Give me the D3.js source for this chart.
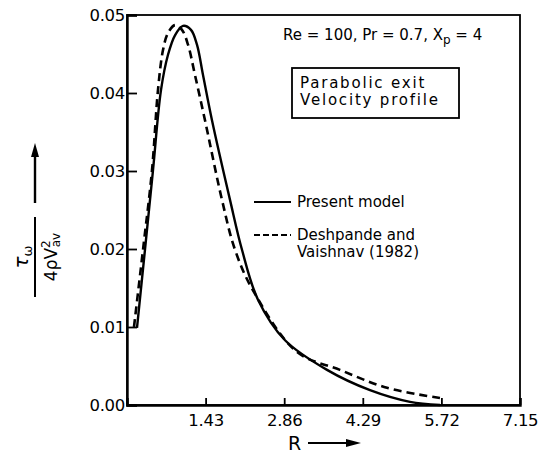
<!DOCTYPE html>
<html>
<head>
<meta charset="utf-8">
<script src="https://cdn.jsdelivr.net/npm/d3@7"></script>
<style>
  html, body { margin: 0; padding: 0; background: #fff; }
  svg text { font-family: "DejaVu Sans", "Liberation Sans", Arial, sans-serif; fill: #000; }
</style>
</head>
<body>
<svg id="chart" width="538" height="461"></svg>
<script>
// ---- data ----
const xTicks = [1.43, 2.86, 4.29, 5.72, 7.15];
const yTicks = [0.00, 0.01, 0.02, 0.03, 0.04, 0.05];

const presentR   = [0.182, 0.327, 0.473, 0.619, 0.746, 0.873, 1.019, 1.164, 1.273, 1.383, 1.546, 1.874, 2.092, 2.383, 2.875, 3.639, 4.421, 5.149, 5.694];
const presentVal = [0.0099, 0.0199, 0.0301, 0.0404, 0.0449, 0.0474, 0.0486, 0.0481, 0.0462, 0.0423, 0.0365, 0.0263, 0.0199, 0.0135, 0.0083, 0.0045, 0.0019, 0.0004, 0.0000];

const deshR   = [0.127, 0.291, 0.455, 0.564, 0.655, 0.746, 0.873, 1.000, 1.110, 1.237, 1.419, 1.728, 1.965, 2.292, 3.093, 3.875, 4.730, 5.694];
const deshVal = [0.0100, 0.0199, 0.0301, 0.0404, 0.0455, 0.0477, 0.0487, 0.0481, 0.0462, 0.0423, 0.0365, 0.0263, 0.0199, 0.0147, 0.0068, 0.0045, 0.0022, 0.0009];

const legendLabels = ["Present model", "Deshpande and", "Vaishnav (1982)"];

// ---- layout ----
const svg = d3.select("#chart");
const L = 127, R = 520, T = 15, B = 405;
const x = d3.scaleLinear().domain([0, 7.15]).range([L, R]);
const y = d3.scaleLinear().domain([0, 0.05]).range([B, T]);

// frame
svg.append("rect").attr("x", L).attr("y", T).attr("width", R - L).attr("height", B - T)
  .attr("fill", "none").attr("stroke", "#000").attr("stroke-width", 1.8);

// axes
const xAxis = d3.axisBottom(x).tickValues(xTicks).tickSize(-7).tickPadding(9)
  .tickFormat(d => d.toFixed(2));
const gx = svg.append("g").attr("transform", `translate(0,${B})`).call(xAxis);
gx.select(".domain").attr("stroke-width", 2.4);
gx.selectAll(".tick line").attr("stroke-width", 1.8);
gx.selectAll("text").attr("font-size", 16.5).attr("letter-spacing", -0.3)
  .style("font-family", "'DejaVu Sans', sans-serif");

const yAxis = d3.axisLeft(y).tickValues(yTicks).tickSize(-10).tickPadding(2)
  .tickFormat(d => d.toFixed(2));
const gy = svg.append("g").attr("transform", `translate(${L},0)`).call(yAxis);
gy.select(".domain").attr("stroke-width", 2.4);
gy.selectAll(".tick line").attr("stroke-width", 1.8);
gy.selectAll("text").attr("font-size", 16.5).attr("letter-spacing", -0.3)
  .style("font-family", "'DejaVu Sans', sans-serif");

// curves
const line = d3.line().x(d => x(d[0])).y(d => y(d[1])).curve(d3.curveCatmullRom.alpha(0.5));
const presentPts = presentR.map((r, i) => [r, presentVal[i]]);
const deshPts = deshR.map((r, i) => [r, deshVal[i]]);

svg.append("path").datum(deshPts).attr("d", line)
  .attr("fill", "none").attr("stroke", "#000").attr("stroke-width", 2.6)
  .attr("stroke-dasharray", "8,5");
svg.append("path").datum(presentPts).attr("d", line)
  .attr("fill", "none").attr("stroke", "#000").attr("stroke-width", 2.4);

// annotation
const ann = svg.append("text").attr("x", 283).attr("y", 40).attr("font-size", 15);
ann.append("tspan").text("Re = 100,  Pr = 0.7,  X");
ann.append("tspan").attr("font-size", 12).attr("dy", 4).text("p");
ann.append("tspan").attr("dy", -4).text(" = 4");

svg.append("rect").attr("x", 292).attr("y", 68).attr("width", 167).attr("height", 50)
  .attr("fill", "none").attr("stroke", "#000").attr("stroke-width", 1.8);
svg.append("text").attr("x", 300).attr("y", 88).attr("font-size", 15).attr("letter-spacing", 1.8).text("Parabolic exit");
svg.append("text").attr("x", 300).attr("y", 105).attr("font-size", 15).attr("letter-spacing", 1.8).text("Velocity profile");

// legend
svg.append("line").attr("x1", 254).attr("x2", 291).attr("y1", 202).attr("y2", 202)
  .attr("stroke", "#000").attr("stroke-width", 2.2);
svg.append("line").attr("x1", 254).attr("x2", 291).attr("y1", 235).attr("y2", 235)
  .attr("stroke", "#000").attr("stroke-width", 2.2).attr("stroke-dasharray", "6,3");
svg.append("text").attr("x", 297).attr("y", 207).attr("font-size", 15).text(legendLabels[0]);
svg.append("text").attr("x", 297).attr("y", 240).attr("font-size", 15).text(legendLabels[1]);
svg.append("text").attr("x", 297).attr("y", 257).attr("font-size", 15).text(legendLabels[2]);

// y axis label (rotated fraction) with arrow
const yl = svg.append("g").attr("transform", "translate(35,257) rotate(-90)");
yl.append("line").attr("x1", -40).attr("x2", 40).attr("y1", 0).attr("y2", 0)
  .attr("stroke", "#000").attr("stroke-width", 2);
const num = yl.append("text").attr("x", 0).attr("y", -7).attr("text-anchor", "middle").attr("font-size", 20);
num.append("tspan").attr("font-style", "italic").text("τ");
num.append("tspan").attr("font-size", 13).attr("dy", 4).text("ω");
const den = yl.append("text").attr("x", 0).attr("y", 22).attr("text-anchor", "middle").attr("font-size", 17);
den.append("tspan").text("4ρV");
den.append("tspan").attr("font-size", 12).attr("dy", -7).text("2");
den.append("tspan").attr("font-size", 12).attr("dy", 10).attr("dx", -7).text("av");

// vertical arrow above label
svg.append("line").attr("x1", 35).attr("x2", 35).attr("y1", 203).attr("y2", 152)
  .attr("stroke", "#000").attr("stroke-width", 2.4);
svg.append("path").attr("d", "M35,143 L31,157 L39,157 Z").attr("fill", "#000");

// x axis label with arrow
svg.append("text").attr("x", 288).attr("y", 450).attr("font-size", 19).text("R");
svg.append("line").attr("x1", 308).attr("x2", 350).attr("y1", 443).attr("y2", 443)
  .attr("stroke", "#000").attr("stroke-width", 2);
svg.append("path").attr("d", "M361,443 L346,439 L346,447 Z").attr("fill", "#000");
</script>
</body>
</html>
